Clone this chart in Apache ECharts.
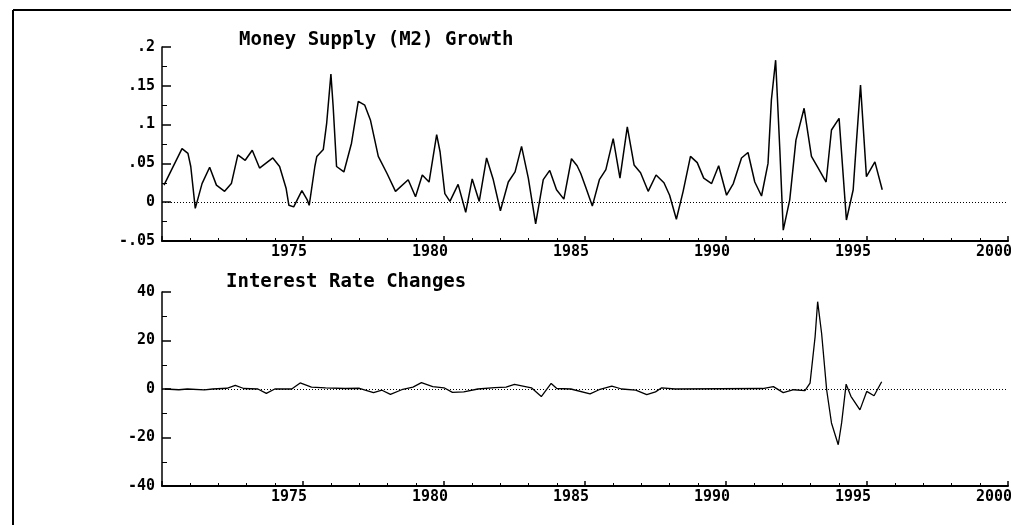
<!DOCTYPE html>
<html>
<head>
<meta charset="utf-8">
<script src="https://cdn.jsdelivr.net/npm/echarts@6/dist/echarts.min.js"></script>
<style>html,body{margin:0;padding:0;background:#fff;}#c{width:1011px;height:525px;}</style>
</head>
<body>
<div id="c"></div>
<script>
// ---- Data ----
const topTitle = 'Money Supply (M2) Growth';
const bottomTitle = 'Interest Rate Changes';

const m2Years = [1970.07,1970.71,1970.92,1971.02,1971.18,1971.42,1971.69,1971.93,1972.22,1972.46,1972.69,1972.95,1973.20,1973.46,1973.93,1974.17,1974.40,1974.50,1974.67,1974.96,1975.15,1975.22,1975.42,1975.49,1975.72,1975.84,1975.99,1976.07,1976.19,1976.45,1976.72,1976.96,1977.19,1977.39,1977.67,1977.98,1978.28,1978.73,1978.99,1979.23,1979.47,1979.74,1979.86,1980.03,1980.21,1980.50,1980.77,1981.00,1981.25,1981.51,1981.74,1982.00,1982.28,1982.52,1982.75,1982.99,1983.25,1983.52,1983.75,1983.99,1984.25,1984.52,1984.72,1984.85,1985.02,1985.26,1985.51,1985.74,1986.00,1986.24,1986.50,1986.74,1986.97,1987.24,1987.52,1987.80,1988.00,1988.24,1988.48,1988.74,1988.98,1989.21,1989.49,1989.74,1990.02,1990.26,1990.55,1990.78,1991.02,1991.26,1991.49,1991.61,1991.76,1991.91,1992.03,1992.26,1992.48,1992.77,1993.03,1993.27,1993.55,1993.74,1994.01,1994.27,1994.51,1994.63,1994.77,1994.98,1995.28,1995.54];
const m2Growth = [0.022,0.069,0.063,0.046,-0.008,0.024,0.045,0.022,0.014,0.024,0.061,0.054,0.067,0.044,0.057,0.046,0.018,-0.004,-0.006,0.015,0.003,-0.004,0.046,0.059,0.068,0.102,0.165,0.123,0.046,0.039,0.076,0.130,0.125,0.106,0.059,0.037,0.014,0.029,0.007,0.035,0.026,0.087,0.065,0.011,0.001,0.023,-0.013,0.030,0.001,0.057,0.030,-0.011,0.026,0.039,0.072,0.031,-0.028,0.029,0.041,0.016,0.004,0.056,0.047,0.037,0.020,-0.005,0.029,0.042,0.082,0.031,0.097,0.048,0.038,0.014,0.035,0.025,0.009,-0.022,0.014,0.059,0.051,0.031,0.024,0.047,0.009,0.024,0.057,0.064,0.026,0.008,0.050,0.132,0.183,0.067,-0.036,0.003,0.080,0.121,0.059,0.044,0.026,0.093,0.108,-0.023,0.016,0.080,0.151,0.033,0.052,0.016];

const rateYears = [1970.10,1970.60,1970.90,1971.50,1971.80,1972.30,1972.60,1972.90,1973.40,1973.70,1974.00,1974.60,1974.90,1975.30,1975.80,1976.50,1977.00,1977.50,1977.80,1978.10,1978.50,1978.90,1979.20,1979.60,1980.00,1980.30,1980.70,1981.20,1981.80,1982.20,1982.50,1982.80,1983.10,1983.45,1983.80,1984.00,1984.50,1985.18,1985.50,1985.95,1986.30,1986.80,1987.19,1987.50,1987.72,1988.20,1991.30,1991.68,1992.03,1992.40,1992.80,1992.98,1993.16,1993.25,1993.39,1993.57,1993.74,1993.98,1994.10,1994.26,1994.43,1994.75,1994.99,1995.25,1995.52];
const rateChanges = [0,-0.3,0,-0.4,0,0.3,1.5,0.2,0,-1.8,0,0,2.5,0.8,0.5,0.2,0.3,-1.5,-0.5,-2.2,-0.3,0.8,2.6,1,0.5,-1.4,-1.2,0,0.6,0.8,1.9,1.2,0.5,-3.1,2.3,0.2,0,-2,-0.3,1.2,0,-0.5,-2.3,-1.2,0.5,0,0.2,1,-1.5,-0.3,-0.7,2.4,21.6,36,23,-0.4,-14,-23,-14,2,-3,-8.6,-1,-2.8,3];

const xTicks = {min: 1970, max: 2000, interval: 5};
const topY = {min: -0.05, max: 0.2, interval: 0.05};
const botY = {min: -40, max: 40, interval: 20};

// ---- Chart ----
const chart = echarts.init(document.getElementById('c'), null, {renderer: 'canvas'});
const FONT = 'DejaVu Sans Mono';
const pair = (xs, ys) => xs.map((x, i) => [x, ys[i]]);

function xAxis(gi) {
  return {
    type: 'value', gridIndex: gi, min: xTicks.min, max: xTicks.max, interval: xTicks.interval,
    axisLine: {show: true, onZero: false, lineStyle: {color: '#000', width: 2}},
    axisTick: {show: true, inside: true, length: 5, lineStyle: {color: '#000', width: 1.5}},
    minorTick: {show: true, splitNumber: 5, length: 3, lineStyle: {color: '#000', width: 1}},
    splitLine: {show: false},
    axisLabel: {show: true, showMinLabel: false, color: '#000', fontFamily: FONT, fontWeight: 'bold', fontSize: 15,
      align: 'right', margin: 4, padding: [0, -4, 0, 0], formatter: v => String(v)}
  };
}
function yAxis(gi, cfg, fmt) {
  return {
    type: 'value', gridIndex: gi, min: cfg.min, max: cfg.max, interval: cfg.interval,
    axisLine: {show: true, onZero: false, lineStyle: {color: '#000', width: 1.5}},
    axisTick: {show: true, inside: true, length: 9, lineStyle: {color: '#000', width: 1.5}},
    minorTick: {show: true, splitNumber: 2, length: 5, lineStyle: {color: '#000', width: 1}},
    splitLine: {show: false},
    axisLabel: {color: '#000', fontFamily: FONT, fontWeight: 'bold', fontSize: 15, margin: 7, formatter: fmt}
  };
}
const fmtTop = v => {
  const r = +(+v).toFixed(2);
  if (r === 0) return '0';
  return (r < 0 ? '-' : '') + String(Math.abs(r)).replace(/^0/, '');
};
const zeroLine = {
  silent: true, symbol: 'none', label: {show: false},
  lineStyle: {color: '#000', type: [1, 2], width: 1},
  data: [{yAxis: 0}]
};

chart.setOption({
  animation: false,
  backgroundColor: '#fff',
  title: [
    {text: topTitle, left: 234, top: 26, textStyle: {fontFamily: FONT, fontWeight: 'bold', fontSize: 19, color: '#000'}},
    {text: bottomTitle, left: 221, top: 268, textStyle: {fontFamily: FONT, fontWeight: 'bold', fontSize: 19, color: '#000'}}
  ],
  grid: [
    {left: 162, top: 47, width: 846, height: 194, containLabel: false, outerBoundsMode: 'none'},
    {left: 162, top: 292, width: 846, height: 194, containLabel: false, outerBoundsMode: 'none'}
  ],
  xAxis: [xAxis(0), xAxis(1)],
  yAxis: [yAxis(0, topY, fmtTop), yAxis(1, botY, v => String(v))],
  graphic: [
    {type: 'line', shape: {x1: 13, y1: 10, x2: 1011, y2: 10}, style: {stroke: '#000', lineWidth: 2}, silent: true},
    {type: 'line', shape: {x1: 13, y1: 10, x2: 13, y2: 525}, style: {stroke: '#000', lineWidth: 2}, silent: true}
  ],
  series: [
    {type: 'line', xAxisIndex: 0, yAxisIndex: 0, data: pair(m2Years, m2Growth), showSymbol: false,
      lineStyle: {color: '#000', width: 1.5}, markLine: zeroLine},
    {type: 'line', xAxisIndex: 1, yAxisIndex: 1, data: pair(rateYears, rateChanges), showSymbol: false,
      lineStyle: {color: '#000', width: 1.3}, markLine: zeroLine}
  ]
});
</script>
</body>
</html>
